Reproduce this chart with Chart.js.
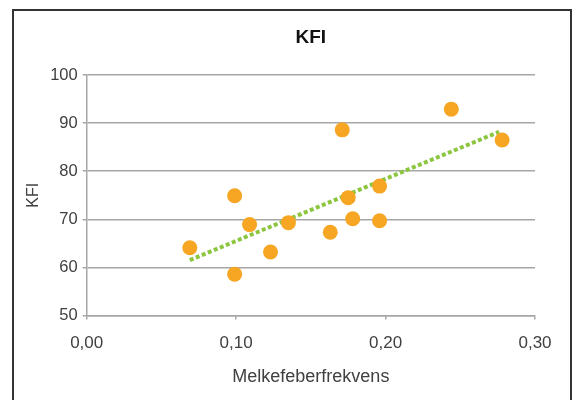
<!DOCTYPE html>
<html>
<head>
<meta charset="UTF-8">
<title>KFI</title>
<script src="https://cdn.jsdelivr.net/npm/chart.js"></script>
<style>
  body { margin: 0; background: #fff; }
  .wrap { position: relative; width: 576px; height: 400px; overflow: hidden; }
  .frame { position: absolute; left: 12px; top: 9px; width: 560px; height: 420px; box-sizing: border-box; border: 2px solid #333; pointer-events: none; }
  canvas { position: absolute; left: 0; top: 0; }
</style>
</head>
<body>
<div class="wrap">
  <canvas id="chart" width="576" height="400"></canvas>
  <div class="frame"></div>
</div>
<script>
// Melkefeberfrekvens (x) vs KFI (y)
const melkefeber = [0.069, 0.099, 0.099, 0.109, 0.123, 0.135, 0.163, 0.171, 0.175, 0.178, 0.196, 0.196, 0.244, 0.278];
const kfi = [64.1, 58.6, 74.9, 68.9, 63.2, 69.3, 67.3, 88.6, 74.5, 70.1, 76.9, 69.7, 92.9, 86.5];

// trendline end points as drawn in the picture
const trendX = [0.069, 0.276];
const trendY = [61.5, 88.2];

const xTicks = [0, 0.1, 0.2, 0.3];
const yTicks = [50, 60, 70, 80, 90, 100];

const fontFamily = '"Liberation Sans", Arial, sans-serif';
const tickColor = '#404040';
const gridColor = '#a6a6a6';

const points = melkefeber.map((x, i) => ({ x: x, y: kfi[i] }));
const trend = trendX.map((x, i) => ({ x: x, y: trendY[i] }));

new Chart(document.getElementById('chart'), {
  type: 'scatter',
  data: {
    datasets: [
      {
        label: 'Trend',
        data: trend,
        showLine: true,
        borderColor: '#8cc63e',
        borderWidth: 4,
        borderDash: [4, 2.5],
        pointRadius: 0,
        fill: false,
        order: 2
      },
      {
        label: 'KFI',
        data: points,
        backgroundColor: '#f6a623',
        borderColor: '#f6a623',
        borderWidth: 0,
        pointRadius: 7.5,
        order: 1
      }
    ]
  },
  options: {
    responsive: false,
    animation: false,
    layout: { padding: { left: 0, right: 41, top: 0, bottom: 0 } },
    plugins: {
      legend: { display: false },
      tooltip: { enabled: false },
      title: {
        display: true,
        fullSize: false,
        text: 'KFI',
        color: '#111',
        font: { family: fontFamily, size: 19, weight: 'bold', lineHeight: 1.2 },
        padding: { top: 26, bottom: 26.2 }
      }
    },
    scales: {
      x: {
        type: 'linear',
        min: 0,
        max: 0.3,
        afterBuildTicks: (axis) => { axis.ticks = xTicks.map(v => ({ value: v })); },
        afterFit: (axis) => { axis.height = 84.5; },
        border: { display: true, color: gridColor, width: 1.5 },
        grid: { drawOnChartArea: false, drawTicks: true, tickLength: 4, color: gridColor, lineWidth: 1.5 },
        ticks: {
          padding: 14,
          color: tickColor,
          font: { family: fontFamily, size: 17 },
          maxRotation: 0,
          callback: (v) => v.toFixed(2).replace('.', ',')
        },
        title: {
          display: true,
          text: 'Melkefeberfrekvens',
          color: tickColor,
          font: { family: fontFamily, size: 18, lineHeight: 1.2 },
          padding: { top: 0, bottom: 12.5 }
        }
      },
      y: {
        type: 'linear',
        min: 50,
        max: 100,
        afterBuildTicks: (axis) => { axis.ticks = yTicks.map(v => ({ value: v })); },
        afterFit: (axis) => { axis.width = 86.7; },
        border: { display: true, color: gridColor, width: 1.5 },
        grid: { drawTicks: true, tickLength: 4, color: gridColor, lineWidth: 1.5 },
        ticks: {
          padding: 5,
          color: tickColor,
          font: { family: fontFamily, size: 16.5 }
        },
        title: {
          display: true,
          text: 'KFI',
          color: tickColor,
          font: { family: fontFamily, size: 16, lineHeight: 1.2 },
          padding: { top: 23.7, bottom: 0 }
        }
      }
    }
  }
});
</script>
</body>
</html>
